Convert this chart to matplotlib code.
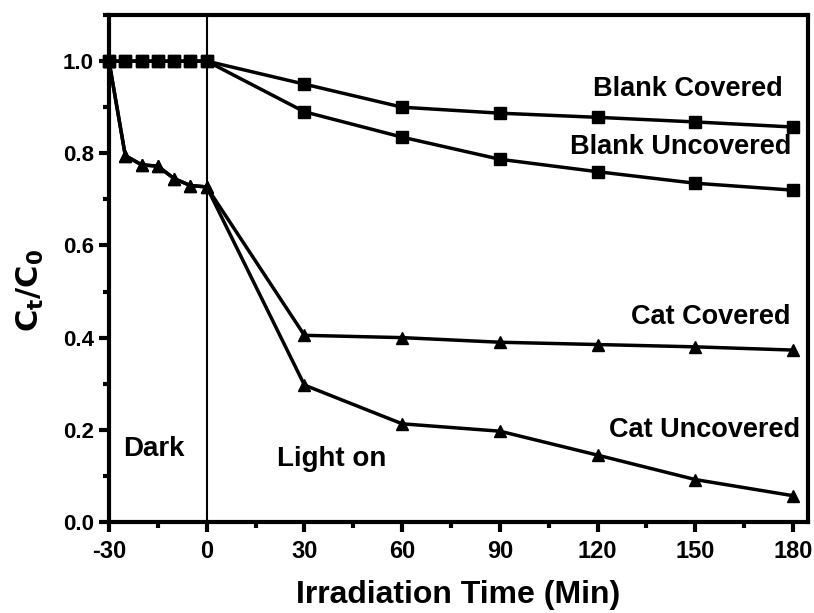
import matplotlib
matplotlib.use("Agg")
import matplotlib.pyplot as plt
from matplotlib.ticker import MultipleLocator

# dark phase (every 5 min) + light phase (every 30 min)
t = [-30, -25, -20, -15, -10, -5, 0, 30, 60, 90, 120, 150, 180]

blank_covered   = [1.0, 1.0, 1.0, 1.0, 1.0, 1.0, 1.0, 0.950, 0.900, 0.887, 0.878, 0.868, 0.857]
blank_uncovered = [1.0, 1.0, 1.0, 1.0, 1.0, 1.0, 1.0, 0.890, 0.835, 0.787, 0.760, 0.735, 0.720]
cat_covered     = [1.0, 0.795, 0.775, 0.772, 0.745, 0.730, 0.727, 0.405, 0.400, 0.390, 0.385, 0.380, 0.373]
cat_uncovered   = [1.0, 0.795, 0.775, 0.772, 0.745, 0.730, 0.727, 0.297, 0.213, 0.197, 0.145, 0.092, 0.057]

x_ticks = [-30, 0, 30, 60, 90, 120, 150, 180]
y_ticks = [0.0, 0.2, 0.4, 0.6, 0.8, 1.0]

arial = ["Liberation Sans", "DejaVu Sans"]

fig = plt.figure(figsize=(8.14, 6.13), dpi=100)
ax = fig.add_axes([0.1339, 0.1485, 0.8587, 0.827])

kw = dict(color="black", lw=2.5, ms=8.5, clip_on=False, zorder=3)
ax.plot(t, blank_covered, marker="s", **kw)
ax.plot(t, blank_uncovered, marker="s", **kw)
ax.plot(t, cat_covered, marker="^", **kw)
ax.plot(t, cat_uncovered, marker="^", **kw)

ax.axvline(0, color="black", lw=1.5, zorder=2)

ax.set_xlim(-30, 184.6)
ax.set_ylim(0, 1.1)
ax.set_xticks(x_ticks)
ax.set_yticks(y_ticks)
ax.xaxis.set_minor_locator(MultipleLocator(15))
ax.yaxis.set_minor_locator(MultipleLocator(0.1))
ax.set_xticklabels([str(v) for v in x_ticks], family=arial, fontweight="bold", fontsize=17)
ax.set_yticklabels([f"{v:.1f}" for v in y_ticks], family=arial, fontweight="bold", fontsize=16)

for s in ax.spines.values():
    s.set_linewidth(3)
ax.tick_params(which="major", direction="out", length=7, width=3)
ax.tick_params(axis="x", which="major", pad=6)
ax.tick_params(axis="y", which="major", pad=4)
ax.tick_params(which="minor", direction="out", length=4, width=3)

ax.set_xlabel("Irradiation Time (Min)", family=arial, fontweight="bold", fontsize=23, labelpad=12)
ax.set_ylabel(r"$\mathbf{C_t/C_0}$", family=arial, fontsize=22)
ax.yaxis.set_label_coords(-0.09, 0.457)

txt = dict(family=arial, fontweight="bold", fontsize=19.5, ha="center", va="center")
ax.text(147.8, 0.939, "Blank Covered", **txt)
ax.text(145.6, 0.814, "Blank Uncovered", **txt)
ax.text(154.8, 0.444, "Cat Covered", **txt)
ax.text(153.0, 0.199, "Cat Uncovered", **txt)
ax.text(-16.2, 0.158, "Dark", family=arial, fontweight="bold", fontsize=20, ha="center", va="center")
ax.text(38.5, 0.136, "Light on", family=arial, fontweight="bold", fontsize=20, ha="center", va="center")

fig.savefig("out.png", dpi=100)
